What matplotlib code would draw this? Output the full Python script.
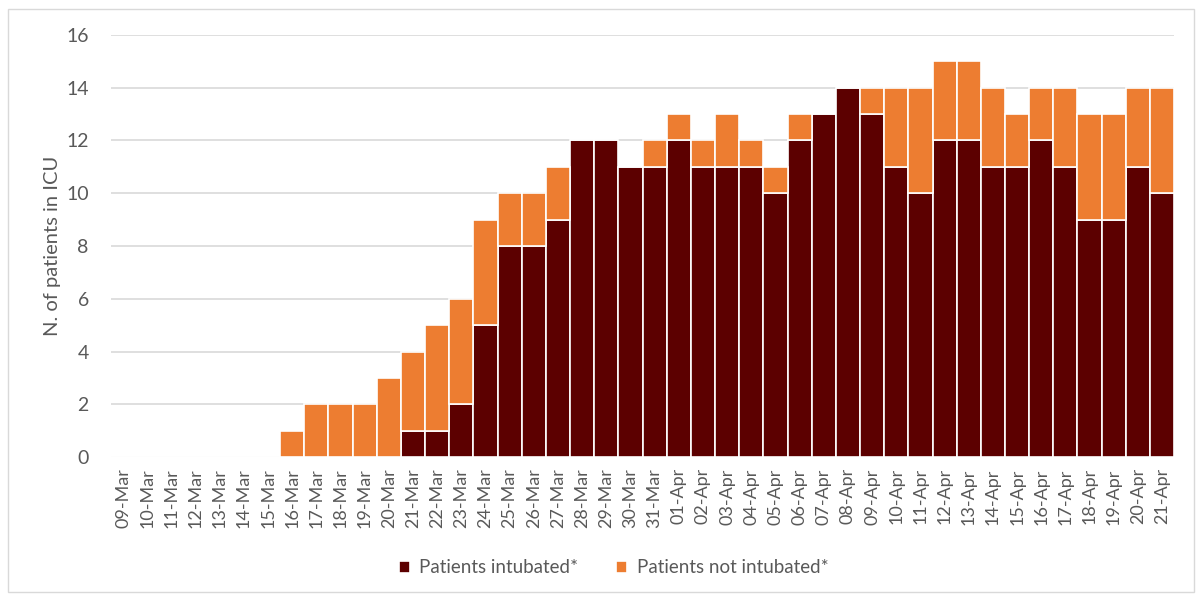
import matplotlib
matplotlib.use("Agg")
import matplotlib.pyplot as plt
from matplotlib.patches import Rectangle
import numpy as np

dates = ["09-Mar", "10-Mar", "11-Mar", "12-Mar", "13-Mar", "14-Mar", "15-Mar", "16-Mar",
         "17-Mar", "18-Mar", "19-Mar", "20-Mar", "21-Mar", "22-Mar", "23-Mar", "24-Mar",
         "25-Mar", "26-Mar", "27-Mar", "28-Mar", "29-Mar", "30-Mar", "31-Mar",
         "01-Apr", "02-Apr", "03-Apr", "04-Apr", "05-Apr", "06-Apr", "07-Apr", "08-Apr",
         "09-Apr", "10-Apr", "11-Apr", "12-Apr", "13-Apr", "14-Apr", "15-Apr", "16-Apr",
         "17-Apr", "18-Apr", "19-Apr", "20-Apr", "21-Apr"]
intubated = [0, 0, 0, 0, 0, 0, 0, 0, 0, 0, 0, 0, 1, 1, 2, 5, 8, 8, 9, 12, 12, 11, 11,
             12, 11, 11, 11, 10, 12, 13, 14, 13, 11, 10, 12, 12, 11, 11, 12, 11, 9, 9, 11, 10]
not_intubated = [0, 0, 0, 0, 0, 0, 0, 1, 2, 2, 2, 3, 3, 4, 4, 4, 2, 2, 2, 0, 0, 0, 1,
                 1, 1, 2, 1, 1, 1, 0, 0, 1, 3, 4, 3, 3, 3, 2, 2, 3, 4, 4, 3, 4]

plt.rcParams['font.family'] = ['Lato', 'DejaVu Sans']
dark = "#5C0000"
orange = "#ED7D31"
gray = "#595959"

fig = plt.figure(figsize=(12.03, 5.99), dpi=100)
ax = fig.add_axes([0.0923, 0.237, 0.8837, 0.7046])
x = np.arange(len(dates))
ax.bar(x, intubated, width=1.0, color=dark, edgecolor="white", linewidth=1.2,
       label="Patients intubated*", zorder=3)
ax.bar(x, not_intubated, width=1.0, bottom=intubated, color=orange, edgecolor="white",
       linewidth=1.2, label="Patients not intubated*", zorder=3)

ax.set_xlim(-0.5, len(dates) - 0.5)
ax.set_ylim(0, 16)
ax.set_yticks(range(0, 17, 2))
ax.yaxis.grid(True, color="#D9D9D9", linewidth=1.2, zorder=0)
ax.set_axisbelow(True)
for s in ax.spines.values():
    s.set_visible(False)
ax.tick_params(axis="both", length=0, colors=gray)
ax.tick_params(axis="y", labelsize=14, pad=16)
ax.set_xticks(x)
ax.set_xticklabels(dates, rotation=90, fontsize=13)
ax.tick_params(axis="x", pad=8)
ax.set_ylabel("N. of patients in ICU", fontsize=14.5, color=gray, labelpad=4)

leg = fig.legend(loc="center", bbox_to_anchor=(0.51, 0.052), ncol=2, frameon=False,
                 fontsize=13.5, handlelength=0.6, handleheight=0.6, columnspacing=2.0,
                 handletextpad=0.5)
for t in leg.get_texts():
    t.set_color(gray)

fig.patches.append(Rectangle((8 / 1203, 1 - 592 / 599), 1186 / 1203, 583 / 599,
                             transform=fig.transFigure, fill=False,
                             edgecolor="#D9D9D9", linewidth=1))
fig.savefig("out.png", dpi=100)
